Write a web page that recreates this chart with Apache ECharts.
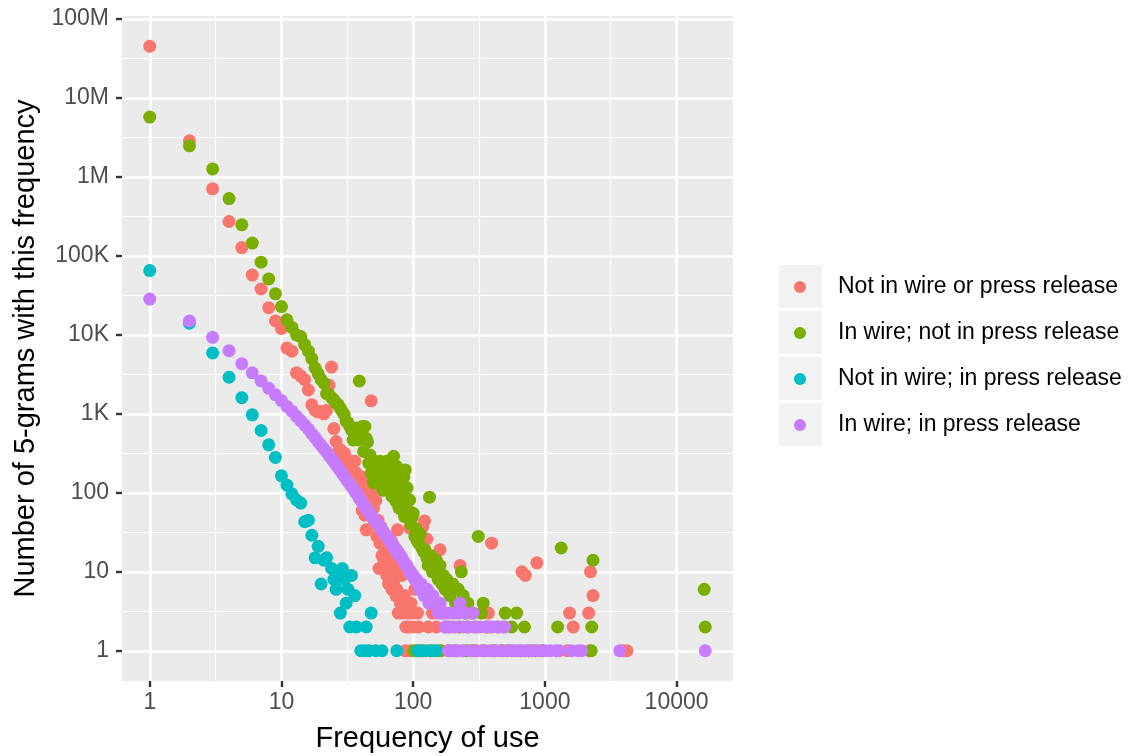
<!DOCTYPE html>
<html>
<head>
<meta charset="utf-8">
<script src="https://cdn.jsdelivr.net/npm/echarts@6/dist/echarts.min.js"></script>
<style>
  html, body { margin: 0; padding: 0; background: #fff; }
  #chart { width: 1128px; height: 756px; }
</style>
</head>
<body>
<div id="chart"></div>
<script>
// [frequency of use, number of 5-grams with that frequency]
const notWireNotPress = [
  [1, 45000000], [2, 2860000], [3, 705000], [4, 272000], [5, 127000],
  [6, 57000], [7, 38000], [8, 22000], [9, 15000], [10, 12000],
  [11, 6800], [12, 6200], [13, 3300], [14, 3000], [15, 2700], [16, 2000],
  [17, 1300], [18, 1100], [19, 1050], [20, 1070], [21, 1000], [22, 1100],
  [23, 2300], [24, 3900], [25, 650], [26, 446], [27, 330], [28, 350],
  [29, 262], [30, 317], [31, 215], [32, 262], [33, 195], [34, 215],
  [35, 160], [36, 250], [37, 178], [38, 140], [39, 85], [40, 160],
  [41, 60], [42, 120], [43, 52], [44, 34], [45, 133], [46, 100],
  [47, 70], [48, 1460], [49, 108], [50, 64], [51, 40], [52, 80],
  [53, 28], [54, 45], [55, 11], [56, 23], [57, 37], [58, 16], [59, 30],
  [60, 13], [61, 20], [62, 13], [63, 9], [64, 18], [65, 7], [66, 12],
  [67, 8], [68, 25], [69, 6], [70, 10], [71, 7], [72, 15], [74, 5],
  [75, 6], [76, 34], [77, 3], [78, 12], [80, 4], [82, 9], [84, 3],
  [86, 5], [87, 1], [88, 2], [90, 3], [92, 2], [94, 36], [95, 1],
  [96, 4], [98, 3], [100, 2], [103, 6], [105, 1], [108, 3], [110, 2],
  [115, 1], [118, 37], [122, 44], [127, 26], [130, 2], [135, 1], [140, 3],
  [150, 2], [158, 1], [160, 19], [175, 2], [185, 1], [200, 2], [215, 1],
  [227, 12], [240, 1], [260, 2], [280, 1], [300, 1], [330, 1], [372, 3],
  [380, 2], [394, 23], [420, 1], [480, 1], [560, 1], [670, 10], [710, 9],
  [800, 1], [870, 13], [950, 1], [1480, 1], [1540, 3], [1640, 2],
  [2150, 3], [2180, 1], [2220, 10], [2320, 5], [3870, 1], [4200, 1]
];

const wireNotPress = [
  [1, 5700000], [2, 2470000], [3, 1260000], [4, 531000], [5, 247000],
  [6, 145000], [7, 83000], [8, 51000], [9, 33000], [10, 22800],
  [11, 15500], [12, 12400], [13, 10000], [14, 9500], [15, 7500], [16, 6200],
  [17, 5000], [18, 3800], [19, 3200], [20, 2700], [21, 2450], [22, 1800],
  [23, 1750], [24, 1600], [25, 1500], [26, 1370], [27, 1300], [28, 1170],
  [29, 1070], [30, 970], [31, 800], [32, 770], [33, 690], [34, 625],
  [35, 466], [36, 570], [37, 660], [38, 466], [39, 2600], [40, 620],
  [41, 690], [42, 333], [43, 690], [44, 490], [45, 440], [46, 237],
  [47, 300], [48, 177], [49, 260], [50, 133], [51, 225], [52, 200],
  [53, 160], [54, 180], [55, 210], [56, 250], [57, 150], [58, 190],
  [59, 108], [60, 230], [61, 120], [62, 160], [63, 250], [64, 140],
  [65, 110], [66, 180], [67, 177], [68, 130], [69, 90], [70, 160],
  [71, 290], [72, 100], [73, 140], [74, 78], [75, 215], [76, 120],
  [77, 95], [78, 64], [79, 110], [80, 188], [81, 81], [82, 70], [83, 133],
  [84, 100], [85, 160], [86, 50], [87, 195], [88, 75], [90, 115], [92, 60],
  [94, 81], [96, 40], [98, 48], [100, 55], [101, 1], [103, 28], [105, 35],
  [107, 25], [110, 23], [112, 1], [113, 30], [116, 20], [120, 18], [123, 19],
  [125, 1], [127, 15], [130, 12], [133, 88], [137, 16], [140, 10], [142, 1],
  [145, 13], [150, 14], [155, 8], [160, 12], [163, 1], [165, 7], [170, 9],
  [175, 6], [180, 8], [185, 2], [190, 5], [200, 7], [205, 1], [210, 4],
  [220, 6], [225, 2], [232, 10], [240, 5], [250, 3], [255, 1], [260, 4],
  [280, 3], [290, 1], [300, 2], [312, 28], [330, 3], [340, 4], [350, 1],
  [360, 2], [400, 1], [440, 2], [470, 1], [500, 3], [520, 1], [560, 2],
  [610, 3], [650, 1], [700, 2], [760, 1], [850, 1], [970, 1], [1250, 2],
  [1330, 20], [2250, 1], [2270, 2], [2320, 14], [16200, 6], [16500, 2]
];

const notWirePress = [
  [1, 65000], [2, 14000], [3, 5900], [4, 2900], [5, 1600], [6, 970],
  [7, 615], [8, 405], [9, 280], [10, 164], [11, 125], [12, 97], [13, 81],
  [14, 74], [15, 43], [16, 45], [17, 29], [18, 15], [19, 21], [20, 7],
  [21, 14], [22, 15], [24, 11], [25, 8], [26, 6], [27, 10], [28, 3],
  [29, 11], [30, 8], [31, 4], [32, 6], [33, 2], [34, 9], [36, 5], [37, 2],
  [40, 1], [43, 1], [44, 2], [46, 1], [48, 3], [52, 1], [58, 1], [75, 1],
  [108, 1], [118, 1], [135, 1], [150, 1]
];

const wirePress = [
  [1, 28300], [2, 15000], [3, 9300], [4, 6300], [5, 4300], [6, 3300],
  [7, 2600], [8, 2100], [9, 1740], [10, 1470], [11, 1240], [12, 1080],
  [13, 930], [14, 820], [15, 720], [16, 640], [17, 560], [18, 500],
  [19, 440], [20, 400], [21, 360], [22, 330], [23, 295], [24, 270],
  [25, 248], [26, 226], [27, 208], [28, 190], [29, 176], [30, 162],
  [31, 150], [32, 139], [33, 129], [34, 121], [35, 113], [36, 105],
  [37, 99], [38, 92], [39, 86], [40, 81], [41, 76], [42, 71], [43, 67],
  [44, 63], [45, 60], [46, 57], [47, 54], [48, 51], [49, 49], [50, 47],
  [51, 45], [52, 43], [53, 41], [54, 40], [55, 38], [56, 36], [57, 35],
  [58, 34], [59, 32], [60, 31], [61, 30], [62, 29], [63, 28], [64, 27],
  [65, 26], [66, 25], [67, 24], [68, 23], [69, 23], [70, 22], [71, 21],
  [72, 20], [73, 20], [74, 19], [75, 18], [76, 18], [77, 17], [78, 17],
  [79, 16], [80, 16], [82, 15], [84, 14], [86, 13], [88, 12], [90, 12],
  [92, 11], [94, 10], [96, 10], [98, 9], [100, 9], [103, 8], [106, 8],
  [109, 7], [112, 6], [115, 7], [118, 6], [121, 5], [125, 5], [128, 6],
  [132, 4], [136, 5], [141, 5], [145, 4], [150, 4], [155, 3], [160, 4],
  [165, 3], [170, 3], [175, 2], [180, 3], [185, 1], [190, 2], [195, 1],
  [200, 3], [210, 2], [215, 1], [220, 3], [227, 4], [235, 1], [240, 2],
  [250, 3], [260, 2], [270, 1], [285, 3], [290, 2], [300, 1], [320, 2],
  [340, 1], [360, 2], [380, 1], [400, 2], [420, 1], [440, 2], [460, 1],
  [480, 2], [495, 2], [520, 1], [560, 1], [600, 1], [650, 1], [700, 1],
  [750, 1], [800, 1], [900, 1], [1000, 1], [1100, 1], [1230, 1], [1290, 1],
  [1590, 1], [1780, 1], [1900, 1], [3700, 1], [16500, 1]
];

const seriesNames = [
  "Not in wire or press release",
  "In wire; not in press release",
  "Not in wire; in press release",
  "In wire; in press release"
];
const seriesColors = ["#F8766D", "#7CAE00", "#00BFC4", "#C77CFF"];

// tick labels (powers of ten)
const xTickExp = [0, 1, 2, 3, 4];
const xTickLabels = ["1", "10", "100", "1000", "10000"];
const yTickExp = [0, 1, 2, 3, 4, 5, 6, 7, 8];
const yTickLabels = ["1", "10", "100", "1K", "10K", "100K", "1M", "10M", "100M"];

const font = "Liberation Sans, Arial, sans-serif";
const allData = [notWireNotPress, wireNotPress, notWirePress, wirePress];

// log10 both axes, like scale_x_log10 / scale_y_log10
const toLog = pts => pts.map(p => [Math.log10(p[0]), Math.log10(p[1])]);
const logData = allData.map(toLog);

// ggplot-style 5% expansion of the data range
function expandRange(vals) {
  const lo = Math.min(...vals), hi = Math.max(...vals);
  const pad = (hi - lo) * 0.05;
  return [lo - pad, hi + pad];
}
const xRange = expandRange(logData.flat().map(p => p[0]));
const yRange = expandRange(logData.flat().map(p => p[1]));

const chart = echarts.init(document.getElementById("chart"));

const axisCommon = {
  type: "value",
  nameLocation: "middle",
  nameTextStyle: { fontSize: 29, color: "#000", fontFamily: font },
  axisLine: { show: false, onZero: false },
  axisTick: { show: true, length: 6, lineStyle: { color: "#333333", width: 2.4 } },
  splitLine: { show: true, lineStyle: { color: "#ffffff", width: 2.6 } },
  minorTick: { show: false, splitNumber: 2 },
  minorSplitLine: { show: true, lineStyle: { color: "#ffffff", width: 1.2 } }
};

chart.setOption({
  animation: false,
  backgroundColor: "#ffffff",
  grid: {
    left: 122, right: 395, top: 16, bottom: 75,
    containLabel: false, outerBoundsMode: "none",
    show: true, backgroundColor: "#EBEBEB", borderWidth: 0
  },
  xAxis: Object.assign({}, axisCommon, {
    min: xRange[0], max: xRange[1], splitNumber: 4,
    name: "Frequency of use", nameGap: 43,
    axisTick: Object.assign({}, axisCommon.axisTick, { customValues: xTickExp }),
    axisLabel: {
      customValues: xTickExp, fontSize: 23, color: "#4D4D4D", fontFamily: font, margin: 10,
      formatter: v => xTickLabels[xTickExp.indexOf(Math.round(v))]
    }
  }),
  yAxis: Object.assign({}, axisCommon, {
    min: yRange[0], max: yRange[1], splitNumber: 8,
    name: "Number of 5-grams with this frequency", nameGap: 80,
    axisTick: Object.assign({}, axisCommon.axisTick, { customValues: yTickExp }),
    axisLabel: {
      customValues: yTickExp, fontSize: 23, color: "#4D4D4D", fontFamily: font, margin: 13,
      formatter: v => yTickLabels[yTickExp.indexOf(Math.round(v))]
    }
  }),
  legend: {
    orient: "vertical",
    left: 794, top: 264,
    padding: 0, itemGap: 0,
    itemWidth: 12, itemHeight: 12,
    icon: "circle",
    data: seriesNames,
    textStyle: { fontSize: 23, color: "#000", fontFamily: font, lineHeight: 46, padding: [0, 0, 0, 27] }
  },
  graphic: seriesNames.map((n, i) => ({
    type: "rect", z: -1,
    shape: { x: 779, y: 265 + i * 46, width: 43, height: 43 },
    style: { fill: "#F2F2F2" }
  })),
  series: logData.map((d, i) => ({
    type: "scatter",
    name: seriesNames[i],
    data: d,
    symbolSize: 13,
    itemStyle: { color: seriesColors[i], opacity: 1 },
    emphasis: { disabled: true }
  }))
});
</script>
</body>
</html>
